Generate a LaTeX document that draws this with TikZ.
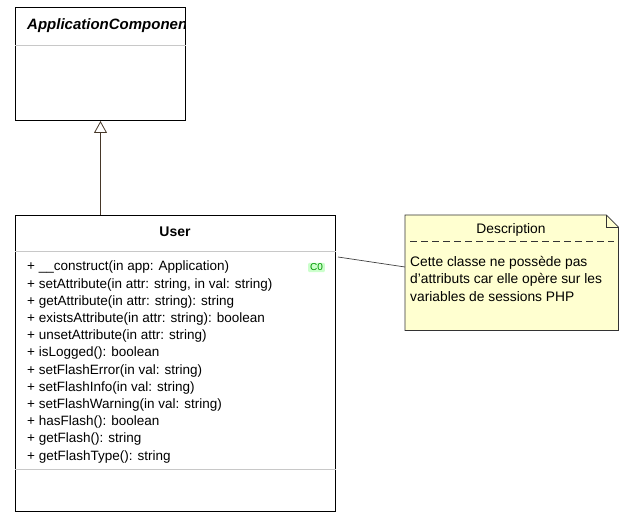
\documentclass[tikz,border=0pt]{standalone}
\usepackage{fontspec}
\setmainfont{Liberation Sans}
\usetikzlibrary{calc,positioning,arrows.meta}

\definecolor{notefill}{RGB}{255,255,208}
\definecolor{sepgray}{RGB}{200,200,200}
\definecolor{linkbrown}{RGB}{70,55,40}
\definecolor{badgefill}{RGB}{204,255,204}
\definecolor{badgetext}{RGB}{0,150,0}

\begin{document}
\begin{tikzpicture}[x=1pt,y=-1pt,>=stealth]

	\tikzset{classbox/.style={
				draw=black,line width=1pt,fill=white,
				anchor=north west,inner sep=0pt}
	}
	\tikzset{separator/.style={sepgray,line width=0.8pt}}
	\tikzset{umltext/.style={font=\fontsize{13.5}{16}\selectfont,inner sep=0pt}}

	\useasboundingbox (0,0) rectangle (634,529);

	% parent class
	\node[classbox,minimum width=170pt,minimum height=113pt] (appcomp) at (15,7) {};
	\begin{scope}
		\clip (appcomp.north west) rectangle ($(appcomp.south east)+(-2,0)$);
		\node[umltext,anchor=west,font=\bfseries\itshape\fontsize{15}{17}\selectfont] (appcomptitle) at (27,26) {ApplicationComponent};
	\end{scope}
	\draw[separator] ($(appcomp.north west)+(0,38)$) -- ($(appcomp.north east)+(0,38)$);

	% class User
	\node[classbox,minimum width=320pt,minimum height=296pt] (user) at (15,215) {};
	\node[umltext,font=\bfseries\fontsize{14}{16}\selectfont] (usertitle) at (175,232) {User};
	\draw[separator] ($(user.north west)+(0,36)$) -- ($(user.north east)+(0,36)$);
	\draw[separator] ($(user.north west)+(0,254)$) -- ($(user.north east)+(0,254)$);

	\node[umltext,anchor=north west,align=left,font=\fontsize{13.5}{17.2}\selectfont] (methods) at (27,261) {%
		+ \_\_construct(in app: Application)\\
		+ setAttribute(in attr: string, in val: string)\\
		+ getAttribute(in attr: string): string\\
		+ existsAttribute(in attr: string): boolean\\
		+ unsetAttribute(in attr: string)\\
		+ isLogged(): boolean\\
		+ setFlashError(in val: string)\\
		+ setFlashInfo(in val: string)\\
		+ setFlashWarning(in val: string)\\
		+ hasFlash(): boolean\\
		+ getFlash(): string\\
		+ getFlashType(): string};

	\node[fill=badgefill,text=badgetext,font=\fontsize{10}{11}\selectfont,inner xsep=2pt,inner ysep=1pt,rounded corners=1pt] (badge) at (316.5,267.5) {C0};

	% inheritance
	\draw[linkbrown,line width=0.8pt,-{Triangle[open,length=12pt,width=13pt]}] (user.north -| appcomp.south) -- (appcomp.south);

	% note
	\node[anchor=north west,minimum width=213pt,minimum height=115pt,inner sep=0pt] (note) at (405,215) {};
	\draw[fill=notefill,draw=black!80,line width=0.8pt] (note.north west) -- ($(note.north east)+(-12,0)$) -- ($(note.north east)+(0,12)$) -- (note.south east) -- (note.south west) -- cycle;
	\draw[draw=black!80,line width=0.8pt] ($(note.north east)+(-12,0)$) -- ($(note.north east)+(-12,12)$) -- ($(note.north east)+(0,12)$);
	\node[umltext,font=\fontsize{13.8}{16}\selectfont] (notetitle) at (511,230) {Description};
	\draw[black!80,line width=0.7pt,dash pattern=on 7pt off 4pt] ($(note.north west)+(5,26)$) -- ($(note.north east)+(-4,26)$);
	\node[umltext,anchor=north west,align=left,font=\fontsize{13.8}{17.5}\selectfont] (notetext) at (410,256) {%
		Cette classe ne possède pas\\
		d’attributs car elle opère sur les\\
		variables de sessions PHP};

	% note link
	\coordinate (userlink) at ($(user.north east)+(2,42)$);
	\coordinate (notelink) at ($(note.north west)+(0,52)$);
	\draw[black!75,line width=0.7pt] (userlink) -- (notelink);

\end{tikzpicture}
\end{document}
